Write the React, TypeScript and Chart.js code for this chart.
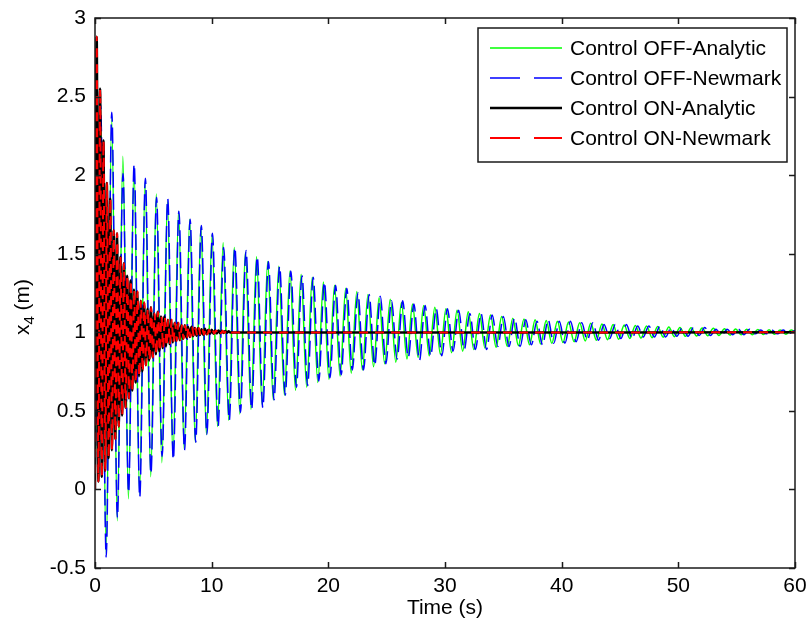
import React, { useEffect, useRef } from "react";
import { Chart, registerables } from "chart.js";

Chart.register(...registerables);

// ---- axis ticks ----
const xTicks = [0, 10, 20, 30, 40, 50, 60];
const yTicks = [-0.5, 0, 0.5, 1, 1.5, 2, 2.5, 3];

// ---- series labels ----
const seriesLabels = [
  "Control OFF-Analytic",
  "Control OFF-Newmark",
  "Control ON-Analytic",
  "Control ON-Newmark",
];

// ---- oscillation periods (s) ----
const offAnalyticPeriod = 0.955;
const offNewmarkPeriod = 0.959;
const onAnalyticPeriod = 0.58;
const onNewmarkPeriod = 0.584;

// ---- Control OFF, Newmark: per-cycle maxima / minima (m) ----
const offNewmarkPeaks = [
  2.45, 2.4, 2.01, 2.07, 1.98, 1.86, 1.85, 1.77, 1.72, 1.68,
  1.63, 1.54, 1.54, 1.52, 1.48, 1.45, 1.42, 1.39, 1.36, 1.35,
  1.32, 1.3, 1.28, 1.25, 1.24, 1.23, 1.2, 1.2, 1.18, 1.17,
  1.15, 1.15, 1.14, 1.12, 1.12, 1.11, 1.1, 1.09, 1.08, 1.07,
  1.08, 1.07, 1.07, 1.06, 1.06, 1.05, 1.05, 1.05, 1.04, 1.04,
  1.04, 1.03, 1.03, 1.03, 1.03, 1.02, 1.02, 1.02, 1.02, 1.015,
  1.015, 1.015, 1.01,
];
const offNewmarkTroughs = [
  0.0, -0.43, -0.18, -0.02, -0.05, 0.1, 0.21, 0.19, 0.25, 0.3,
  0.35, 0.4, 0.44, 0.49, 0.51, 0.52, 0.57, 0.6, 0.65, 0.66,
  0.69, 0.71, 0.73, 0.76, 0.76, 0.79, 0.8, 0.83, 0.84, 0.82,
  0.85, 0.85, 0.88, 0.89, 0.89, 0.89, 0.91, 0.91, 0.91,
  0.92, 0.92, 0.93, 0.93, 0.94, 0.95, 0.95, 0.96, 0.96, 0.96,
  0.97, 0.97, 0.97, 0.975, 0.975, 0.98, 0.98, 0.98, 0.985, 0.985,
  0.99, 0.99, 0.99, 0.99, 0.99,
];

// ---- Control OFF, Analytic: per-cycle maxima / minima (m) ----
const offAnalyticPeaks = [
  2.44, 2.36, 2.12, 2.05, 1.96, 1.88, 1.83, 1.77, 1.72, 1.67,
  1.62, 1.57, 1.54, 1.51, 1.48, 1.45, 1.42, 1.39, 1.37, 1.35,
  1.32, 1.3, 1.28, 1.26, 1.24, 1.22, 1.21, 1.19, 1.18, 1.17,
  1.16, 1.15, 1.14, 1.13, 1.12, 1.11, 1.1, 1.09, 1.085, 1.08,
  1.075, 1.07, 1.065, 1.06, 1.057, 1.053, 1.05, 1.046, 1.043, 1.04,
  1.037, 1.034, 1.031, 1.029, 1.027, 1.025, 1.023, 1.021, 1.019, 1.018,
  1.016, 1.015, 1.014,
];
const offAnalyticTroughs = [
  0.0, -0.41, -0.2, -0.06, -0.03, 0.08, 0.17, 0.21, 0.26, 0.3,
  0.35, 0.4, 0.44, 0.48, 0.51, 0.54, 0.57, 0.6, 0.63, 0.65,
  0.68, 0.7, 0.72, 0.74, 0.76, 0.78, 0.8, 0.81, 0.83, 0.84,
  0.85, 0.86, 0.87, 0.88, 0.89, 0.9, 0.905, 0.91, 0.915, 0.92,
  0.925, 0.93, 0.935, 0.94, 0.945, 0.95, 0.953, 0.956, 0.96, 0.963,
  0.966, 0.969, 0.972, 0.974, 0.976, 0.978, 0.98, 0.982, 0.984, 0.985,
  0.986, 0.987, 0.988, 0.989,
];

// ---- Control ON: per-cycle extremes (m), two sub-peaks per cycle ----
const onStart = 0.0;
const onSettled = 1.0;
const onBigPeaks = [
  2.88, 2.22, 1.85, 1.63, 1.44, 1.33, 1.26, 1.19, 1.16, 1.13,
  1.1, 1.08, 1.06, 1.045, 1.035, 1.028, 1.022, 1.016, 1.012, 1.008,
];
const onSmallPeaks = [
  2.55, 1.95, 1.65, 1.48, 1.36, 1.27, 1.2, 1.15, 1.12, 1.1,
  1.08, 1.06, 1.045, 1.035, 1.027, 1.02, 1.016, 1.012, 1.009, 1.006,
];
const onTroughsA = [
  0.05, 0.12, 0.25, 0.4, 0.52, 0.63, 0.72, 0.79, 0.84, 0.88,
  0.91, 0.935, 0.95, 0.965, 0.975, 0.982, 0.987, 0.991, 0.994, 0.997,
];
const onTroughsB = [
  0.08, 0.2, 0.32, 0.47, 0.58, 0.68, 0.75, 0.82, 0.86, 0.9,
  0.925, 0.945, 0.958, 0.97, 0.978, 0.985, 0.99, 0.993, 0.996, 0.998,
];

type Pt = { x: number; y: number };

function buildOff(period: number, peaks: number[], troughs: number[]): Pt[] {
  const pts: Pt[] = [];
  for (let i = 0; i < troughs.length; i++) {
    pts.push({ x: i * period, y: troughs[i] });
    if (i < peaks.length) pts.push({ x: (i + 0.5) * period, y: peaks[i] });
  }
  return pts;
}

function buildOn(period: number): Pt[] {
  const step = period / 4;
  const pts: Pt[] = [{ x: 0, y: onStart }];
  for (let j = 0; j < onBigPeaks.length; j++) {
    pts.push({ x: (4 * j + 1) * step, y: onBigPeaks[j] });
    pts.push({ x: (4 * j + 2) * step, y: onTroughsA[j] });
    pts.push({ x: (4 * j + 3) * step, y: onSmallPeaks[j] });
    pts.push({ x: (4 * j + 4) * step, y: onTroughsB[j] });
  }
  pts.push({ x: 60, y: onSettled });
  return pts;
}

const FONT = '"Liberation Sans", Arial, Helvetica, sans-serif';
const FS = 21;

const legendDash = [30, 14];

const framePlugin = {
  id: "matlabFrame",
  afterDatasetsDraw(chart: any) {
    const { ctx, chartArea: a, scales } = chart;
    ctx.save();
    ctx.strokeStyle = "#1a1a1a";
    ctx.lineWidth = 1.5;
    ctx.setLineDash([]);
    ctx.strokeRect(a.left, a.top, a.right - a.left, a.bottom - a.top);
    ctx.beginPath();
    const tl = 6;
    for (const v of xTicks) {
      const px = Math.round(scales.x.getPixelForValue(v)) + 0.5;
      ctx.moveTo(px, a.bottom);
      ctx.lineTo(px, a.bottom - tl);
      ctx.moveTo(px, a.top);
      ctx.lineTo(px, a.top + tl);
    }
    for (const v of yTicks) {
      const py = Math.round(scales.y.getPixelForValue(v)) + 0.5;
      ctx.moveTo(a.left, py);
      ctx.lineTo(a.left + tl, py);
      ctx.moveTo(a.right, py);
      ctx.lineTo(a.right - tl, py);
    }
    ctx.stroke();
    ctx.restore();
  },
};

const extrasPlugin = {
  id: "matlabExtras",
  afterDraw(chart: any) {
    const { ctx, chartArea: a } = chart;
    // y-axis title with subscript
    ctx.save();
    ctx.translate(0, 307);
    ctx.rotate(-Math.PI / 2);
    ctx.fillStyle = "#000";
    ctx.textAlign = "left";
    ctx.textBaseline = "alphabetic";
    const big = `${FS}px ${FONT}`;
    const small = `${Math.round(FS * 0.72)}px ${FONT}`;
    ctx.font = big;
    const wX = ctx.measureText("x").width;
    const wRest = ctx.measureText(" (m)").width;
    ctx.font = small;
    const w4 = ctx.measureText("4").width;
    let x0 = -(wX + w4 + wRest) / 2;
    ctx.font = big;
    ctx.fillText("x", x0, 29);
    x0 += wX;
    ctx.font = small;
    ctx.fillText("4", x0, 34);
    x0 += w4;
    ctx.font = big;
    ctx.fillText(" (m)", x0, 29);
    ctx.restore();

    // legend box
    const left = a.right - 317;
    const top = a.top + 10;
    const w = 309;
    const h = 134;
    ctx.save();
    ctx.fillStyle = "#fff";
    ctx.fillRect(left, top, w, h);
    ctx.strokeStyle = "#1a1a1a";
    ctx.lineWidth = 1.5;
    ctx.strokeRect(left, top, w, h);
    const ds = chart.data.datasets;
    ctx.font = big;
    ctx.textBaseline = "middle";
    ctx.textAlign = "left";
    for (let i = 0; i < ds.length; i++) {
      const cy = top + 20 + i * 30;
      ctx.beginPath();
      ctx.strokeStyle = ds[i].borderColor;
      ctx.lineWidth = ds[i].borderWidth;
      ctx.setLineDash(ds[i].borderDash && ds[i].borderDash.length ? legendDash : []);
      ctx.moveTo(left + 12, cy);
      ctx.lineTo(left + 84, cy);
      ctx.stroke();
      ctx.setLineDash([]);
      ctx.fillStyle = "#000";
      ctx.fillText(ds[i].label, left + 92, cy + 1);
    }
    ctx.restore();
  },
};

export default function App() {
  const ref = useRef<HTMLCanvasElement>(null);
  useEffect(() => {
    document.body.style.margin = "0";
    const canvas = ref.current;
    if (!canvas) return;
    const common = {
      pointRadius: 0,
      pointHoverRadius: 0,
      fill: false,
      cubicInterpolationMode: "monotone" as const,
      tension: 0.4,
    };
    const chart = new Chart(canvas, {
      type: "line",
      data: {
        datasets: [
          {
            ...common,
            label: seriesLabels[0],
            data: buildOff(offAnalyticPeriod, offAnalyticPeaks, offAnalyticTroughs),
            borderColor: "#00ff00",
            borderWidth: 1.5,
            borderDash: [],
            order: 4,
          },
          {
            ...common,
            label: seriesLabels[1],
            data: buildOff(offNewmarkPeriod, offNewmarkPeaks, offNewmarkTroughs),
            borderColor: "#0000ff",
            borderWidth: 1.5,
            borderDash: [16, 6],
            order: 3,
          },
          {
            ...common,
            label: seriesLabels[2],
            data: buildOn(onAnalyticPeriod),
            borderColor: "#000000",
            borderWidth: 2.5,
            borderDash: [],
            order: 2,
          },
          {
            ...common,
            label: seriesLabels[3],
            data: buildOn(onNewmarkPeriod),
            borderColor: "#ff0000",
            borderWidth: 2,
            borderDash: [9, 7],
            order: 1,
          },
        ],
      },
      options: {
        responsive: false,
        animation: false,
        devicePixelRatio: 1,
        events: [],
        layout: { padding: { left: 0, top: 18, right: 11, bottom: 0 } },
        plugins: {
          legend: { display: false },
          tooltip: { enabled: false },
        },
        scales: {
          x: {
            type: "linear",
            min: 0,
            max: 60,
            afterBuildTicks: (s: any) => {
              s.ticks = xTicks.map((v) => ({ value: v }));
            },
            afterFit: (s: any) => {
              s.height = 60;
              s.paddingLeft = 0;
              s.paddingRight = 0;
            },
            grid: { display: false, drawTicks: false },
            border: { display: false },
            ticks: {
              autoSkip: false,
              maxRotation: 0,
              padding: 6,
              color: "#000",
              font: { family: FONT, size: FS },
              callback: (v: any) => String(v),
            },
            title: {
              display: true,
              text: "Time (s)",
              color: "#000",
              font: { family: FONT, size: FS },
              padding: { top: 0, bottom: 7 },
            },
          },
          y: {
            type: "linear",
            min: -0.5,
            max: 3,
            afterBuildTicks: (s: any) => {
              s.ticks = yTicks.map((v) => ({ value: v }));
            },
            afterFit: (s: any) => {
              s.width = 95;
              s.paddingTop = 0;
              s.paddingBottom = 0;
            },
            grid: { display: false, drawTicks: false },
            border: { display: false },
            ticks: {
              autoSkip: false,
              padding: 9,
              color: "#000",
              font: { family: FONT, size: FS },
              callback: (v: any) => String(v),
            },
          },
        },
      },
      plugins: [framePlugin, extrasPlugin],
    } as any);
    return () => chart.destroy();
  }, []);
  return (
    <div style={{ width: 806, height: 628, background: "#fff" }}>
      <canvas ref={ref} width={806} height={628} style={{ display: "block" }} />
    </div>
  );
}
